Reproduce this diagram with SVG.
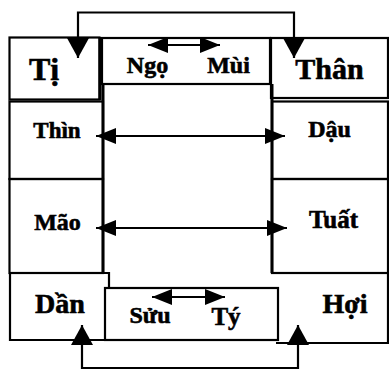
<svg xmlns="http://www.w3.org/2000/svg" width="389" height="371" viewBox="0 0 389 371">
<defs>
<style>
.box{fill:none;stroke:#000;stroke-width:2.2}
.thick{fill:none;stroke:#000;stroke-width:3}
.lbl{font-family:"Liberation Serif","Times New Roman",serif;font-weight:bold;fill:#000;stroke:#000;stroke-width:0.6;text-anchor:middle}
.con{fill:none;stroke:#000;stroke-width:2.2}
</style>
<marker id="big" viewBox="0 0 20 22" refX="20" refY="11" markerWidth="20" markerHeight="22" markerUnits="userSpaceOnUse" orient="auto-start-reverse">
<path d="M0,0 L20,11 L0,22 z" fill="#000"/>
</marker>
<marker id="small" viewBox="0 0 20 16" refX="20" refY="8" markerWidth="20" markerHeight="16" markerUnits="userSpaceOnUse" orient="auto-start-reverse">
<path d="M0,0 L20,8 L0,16 z" fill="#000"/>
</marker>
</defs>
<rect width="389" height="371" fill="#fff"/>

<g id="frame">
<path class="thick" d="M103,84 V273"/>
<path class="thick" d="M272,84 V273"/>
</g>

<g id="ti">
<rect class="box" x="9.5" y="37.5" width="90" height="62"/>
<path class="thick" d="M100,37 V100"/>
<text class="lbl" x="44" y="80" font-size="32">Tị</text>
</g>
<g id="ngo-mui">
<rect class="box" x="102" y="38" width="168" height="46"/>
<text class="lbl" x="147.5" y="73" font-size="24">Ngọ</text>
<text class="lbl" x="228.5" y="73" font-size="24">Mùi</text>
</g>
<g id="than">
<rect class="box" x="271" y="38" width="117" height="60"/>
<text class="lbl" x="329.5" y="79" font-size="30">Thân</text>
</g>
<g id="thin">
<rect class="box" x="9.5" y="101.5" width="93.5" height="77.5"/>
<text class="lbl" x="57" y="138" font-size="23">Thìn</text>
</g>
<g id="dau">
<rect class="box" x="272" y="101.5" width="116" height="77.5"/>
<text class="lbl" x="329.5" y="137" font-size="24">Dậu</text>
</g>
<g id="mao">
<rect class="box" x="9.5" y="179" width="93.5" height="94"/>
<text class="lbl" x="57.5" y="230" font-size="24">Mão</text>
</g>
<g id="tuat">
<rect class="box" x="272" y="179" width="116" height="94"/>
<text class="lbl" x="333.5" y="228" font-size="25">Tuất</text>
</g>
<g id="dan">
<path class="box" d="M10,273 H109 V288 M105,340 H10 V273"/>
<text class="lbl" x="60" y="313" font-size="28">Dần</text>
</g>
<g id="suu-ty">
<rect class="box" x="105" y="288" width="173" height="52"/>
<text class="lbl" x="150" y="323" font-size="24">Sửu</text>
<text class="lbl" x="226" y="325" font-size="25">Tý</text>
</g>
<g id="hoi">
<path class="box" d="M272,273 H388 V343 H276"/>
<text class="lbl" x="345" y="313" font-size="28">Hợi</text>
</g>

<g id="connectors">
<path class="con" d="M78,58 V12.5 H294 V58" marker-start="url(#big)" marker-end="url(#big)"/>
<path class="con" d="M82,325 V368 H298 V325" marker-start="url(#big)" marker-end="url(#big)"/>
<path class="con" d="M148,45 H220" marker-start="url(#small)" marker-end="url(#small)"/>
<path class="con" d="M96,136 H285" marker-start="url(#small)" marker-end="url(#small)"/>
<path class="con" d="M96,228 H287" marker-start="url(#small)" marker-end="url(#small)"/>
<path class="con" d="M152,297 H225" marker-start="url(#small)" marker-end="url(#small)"/>
</g>
</svg>
